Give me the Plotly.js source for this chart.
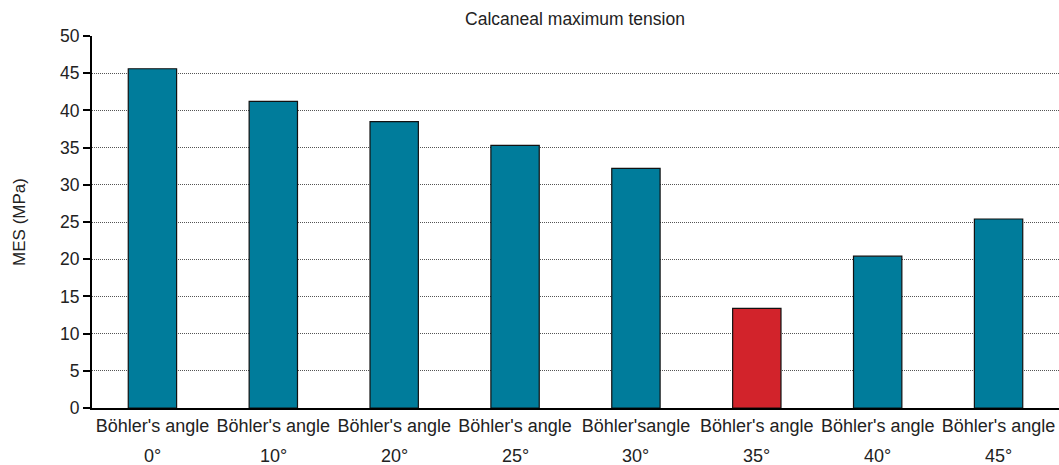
<!DOCTYPE html>
<html>
<head>
<meta charset="utf-8">
<script src="https://cdn.plot.ly/plotly-3.0.1.min.js"></script>
<style>html,body{margin:0;padding:0;background:#fff;}#chart{width:1059px;height:465px;}</style>
</head>
<body>
<div id="chart"></div>
<script>
var categories = ["0°", "10°", "20°", "25°", "30°", "35°", "40°", "45°"];
var tickNames = ["Böhler's angle", "Böhler's angle", "Böhler's angle", "Böhler's angle", "Böhler'sangle", "Böhler's angle", "Böhler's angle", "Böhler's angle"];
var mesValues = [45.6, 41.2, 38.5, 35.3, 32.2, 13.4, 20.4, 25.4];
var barColors = ["#007c9b", "#007c9b", "#007c9b", "#007c9b", "#007c9b", "#d2232b", "#007c9b", "#007c9b"];
var yTicks = [0, 5, 10, 15, 20, 25, 30, 35, 40, 45, 50];

var font = "Liberation Sans, Arial, sans-serif";

var trace = {
  type: "bar",
  x: categories,
  y: mesValues,
  width: 0.4,
  marker: {color: barColors, line: {color: "#111", width: 1.2}},
  hoverinfo: "x+y"
};

var annotations = categories.map(function (c) {
  return {
    x: c, xref: "x", y: 0, yref: "paper",
    yanchor: "top", yshift: -36,
    text: c, showarrow: false,
    font: {family: font, size: 18, color: "#222"}
  };
});

var layout = {
  width: 1059, height: 465,
  margin: {l: 92, r: 0, t: 36, b: 57},
  paper_bgcolor: "#fff", plot_bgcolor: "#fff",
  showlegend: false,
  bargap: 0.6,
  title: {text: "Calcaneal maximum tension", x: 0.543, xanchor: "center", y: 0.96, yanchor: "middle",
    font: {family: font, size: 17.5, color: "#222"}},
  xaxis: {
    type: "category",
    range: [-0.5, 7.5],
    tickmode: "array", tickvals: categories, ticktext: tickNames,
    ticks: "", showgrid: false,
    showline: true, linecolor: "#000", linewidth: 2,
    tickfont: {family: font, size: 18, color: "#222"},
    zeroline: false
  },
  yaxis: {
    range: [0, 50],
    tickmode: "array", tickvals: yTicks,
    ticks: "outside", ticklen: 7, tickwidth: 2, tickcolor: "#000",
    showline: true, linecolor: "#000", linewidth: 2,
    showgrid: true, gridcolor: "#555", gridwidth: 1, griddash: "1px,1px",
    zeroline: false,
    tickfont: {family: font, size: 17.5, color: "#222"},
    title: {text: "MES (MPa)", standoff: 30, font: {family: font, size: 17, color: "#222"}}
  },
  annotations: annotations
};

Plotly.newPlot("chart", [trace], layout, {displayModeBar: false, staticPlot: true});
</script>
</body>
</html>
